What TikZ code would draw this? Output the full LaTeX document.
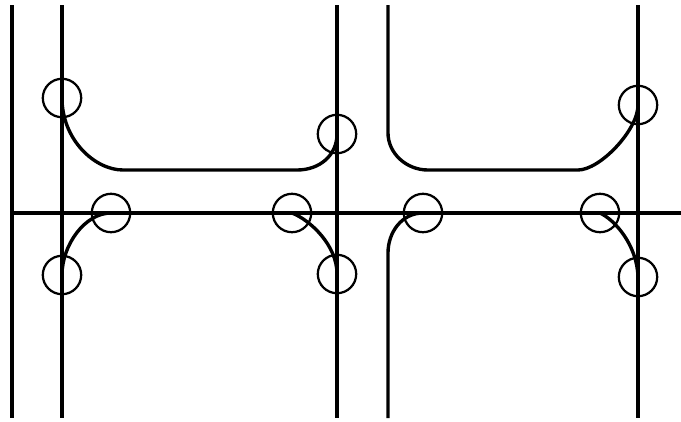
\documentclass[tikz,border=0pt]{standalone}
\begin{document}
\begin{tikzpicture}[x=0.025cm,y=-0.025cm,
  rail/.style={line width=2.6pt},
  track/.style={line width=2.4pt},
  ring/.style={circle,draw,line width=1.6pt,minimum size=0.96cm,inner sep=0pt}]

  \useasboundingbox (0,0) rectangle (681,421);

  \coordinate (AT) at (12,5);
  \coordinate (AB) at (12,418);
  \coordinate (BT) at (62,5);
  \coordinate (BB) at (62,418);
  \coordinate (CT) at (337,5);
  \coordinate (CB) at (337,418);
  \coordinate (DT) at (388,5);
  \coordinate (DB) at (388,418);
  \coordinate (ET) at (638,5);
  \coordinate (EB) at (638,418);
  \coordinate (HL) at (12,213);
  \coordinate (HR) at (681,213);

  \draw [rail] (AT) -- (AB);
  \draw [rail] (BT) -- (BB);
  \draw [rail] (CT) -- (CB);
  \draw [rail] (ET) -- (EB);
  \draw [rail] (HL) -- (HR);

  \node [ring] (a1) at (62,98) {};
  \node [ring] (a2) at (337,134) {};
  \node [ring] (a3) at (111,213) {};
  \node [ring] (a4) at (292,213) {};
  \node [ring] (a5) at (62,275) {};
  \node [ring] (a6) at (337,274) {};
  \node [ring] (b1) at (638,105) {};
  \node [ring] (b2) at (423,213) {};
  \node [ring] (b3) at (600,213) {};
  \node [ring] (b4) at (638,277) {};

  % upper left loop
  \coordinate (P1) at (123,170);
  \coordinate (P2) at (297,170);
  \draw [track] (a1.center) .. controls (62,140) and (95,170) .. (P1) -- (P2)
    .. controls (320,170) and (337,155) .. (a2.center);

  % upper right loop
  \coordinate (Q1) at (388,133);
  \coordinate (Q2) at (428,170);
  \coordinate (Q3) at (578,170);
  \draw [track] (DT) -- (Q1) .. controls (388,153) and (406,170) .. (Q2) -- (Q3)
    .. controls (600,170) and (638,130) .. (b1.center);

  % lower curves
  \coordinate (R1) at (388,253);
  \draw [track] (a5.center) .. controls (62,245) and (85,213) .. (a3.center);
  \draw [track] (a4.center) .. controls (310,220) and (337,245) .. (a6.center);
  \draw [track] (DB) -- (R1) .. controls (388,232) and (402,213) .. (b2.center);
  \draw [track] (b3.center) .. controls (615,220) and (637,245) .. (b4.center);

\end{tikzpicture}
\end{document}
